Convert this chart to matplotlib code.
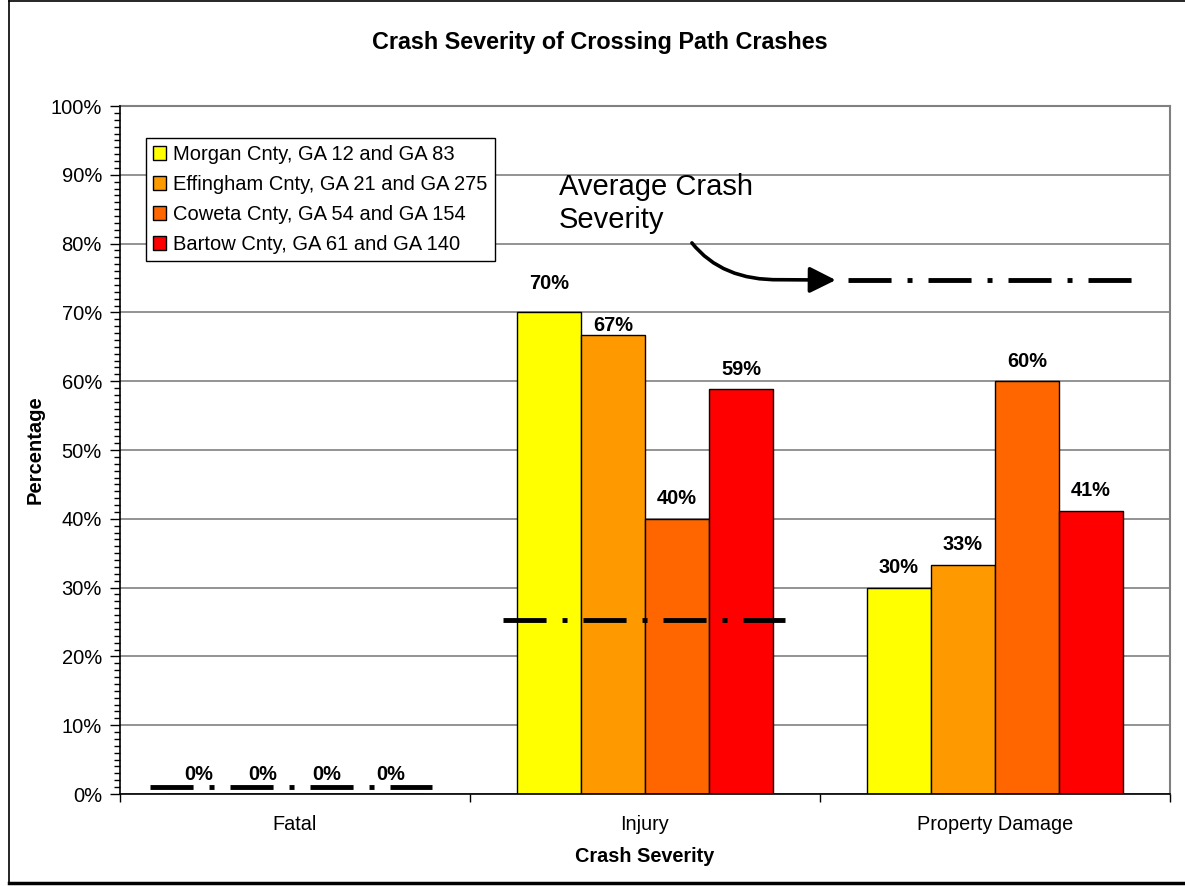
import matplotlib
matplotlib.use("Agg")
import matplotlib.pyplot as plt
import numpy as np
from matplotlib.path import Path
from matplotlib.patches import FancyArrowPatch
from matplotlib.lines import Line2D

plt.rcParams['font.family'] = ['Liberation Sans', 'DejaVu Sans']

# ---- data ----
categories = ["Fatal", "Injury", "Property Damage"]
series_names = ["Morgan Cnty, GA 12 and GA 83",
                "Effingham Cnty, GA 21 and GA 275",
                "Coweta Cnty, GA 54 and GA 154",
                "Bartow Cnty, GA 61 and GA 140"]
morgan = [0.0, 70.0, 30.0]
effingham = [0.0, 66.7, 33.3]
coweta = [0.0, 40.0, 60.0]
bartow = [0.0, 58.8, 41.2]
yticks = list(range(0, 101, 10))
avg_fatal = 1.0
avg_injury = 25.3
avg_legend = 74.7

series = [morgan, effingham, coweta, bartow]
colors = ["#FFFF00", "#FF9900", "#FF6600", "#FF0000"]

W, H = 1185, 886
fig = plt.figure(figsize=(W / 100, H / 100), dpi=100)
ax = fig.add_axes([120 / W, 1 - 794 / H, 1050 / W, 688 / H])

x = np.arange(len(categories))
bw = 64 / 350
offsets = [-1.5, -0.5, 0.5, 1.5]
# label vertical offsets in points (Excel labels, two moved manually)
label_off = [[14.4, 14.4, 14.4, 14.4],
             [20.9, 7.2, 14.4, 14.4],
             [14.4, 14.4, 14.4, 14.4]]
for si, (vals, col, name) in enumerate(zip(series, colors, series_names)):
    xs = x + offsets[si] * bw
    ax.bar(xs, vals, width=bw, color=col, edgecolor="black", linewidth=1.0,
           label=name, zorder=3)
    for ci, (xx, v) in enumerate(zip(xs, vals)):
        ax.annotate(f"{v:.0f}%", (xx, v), xytext=(0, label_off[ci][si]),
                    textcoords="offset points", ha="center", va="center",
                    fontsize=14.4, fontweight="bold", zorder=5)

ax.set_xlim(-0.5, 2.5)
ax.set_ylim(0, 100)
ax.set_yticks(yticks)
ax.set_yticklabels([f"{t}%" for t in yticks], fontsize=14.5)
ax.set_yticks(np.arange(0, 101, 1), minor=True)
ax.tick_params(axis="y", which="major", direction="out", length=7, width=1, pad=6)
ax.tick_params(axis="y", which="minor", direction="out", length=4, width=1)

ax.set_xticks([-0.5, 0.5, 1.5, 2.5])
ax.set_xticklabels([])
ax.set_xticks(x, minor=True)
ax.set_xticklabels(categories, minor=True, fontsize=14.3)
ax.tick_params(axis="x", which="major", direction="out", length=6, width=1)
ax.tick_params(axis="x", which="minor", length=0, pad=15)

ax.grid(axis="y", which="major", color="#808080", linewidth=1.2, zorder=0)
for s in ["top", "right"]:
    ax.spines[s].set_color("#808080")
    ax.spines[s].set_linewidth(1.5)
for s in ["left", "bottom"]:
    ax.spines[s].set_color("black")
    ax.spines[s].set_linewidth(1.2)
    ax.spines[s].set_zorder(6)

# average dash-dot lines
lw_avg = 3.5
dash = (31 / lw_avg, 11.5 / lw_avg, 3.6 / lw_avg, 11.5 / lw_avg)
for (x0, x1, yv) in [(-0.414, 0.391, avg_fatal), (0.594, 1.40, avg_injury),
                     (1.58, 2.403, avg_legend)]:
    ln = Line2D([x0, x1], [yv, yv], color="black", linewidth=lw_avg,
                dashes=dash, solid_capstyle="butt", dash_capstyle="butt", zorder=4)
    ax.add_line(ln)

ax.text(0.754, 90.2, "Average Crash\nSeverity", fontsize=21, ha="left", va="top",
        linespacing=1.2, zorder=5)

verts = [(1.134, 80.1), (1.22, 74.6), (1.386, 74.75), (1.545, 74.7)]
codes = [Path.MOVETO, Path.CURVE3, Path.CURVE3, Path.LINETO]
arr = FancyArrowPatch(path=Path(verts, codes),
                      arrowstyle="-|>,head_length=0.8,head_width=0.4",
                      mutation_scale=20, linewidth=2.6, color="black", zorder=5)
ax.add_patch(arr)

leg = ax.legend(loc="upper left", bbox_to_anchor=(0.0248, 0.9535),
                borderaxespad=0, fontsize=14.5, frameon=True, fancybox=False,
                edgecolor="black", framealpha=1, handlelength=0.65,
                handleheight=0.65, handletextpad=0.35, labelspacing=0.55,
                borderpad=0.35)
leg.get_frame().set_linewidth(1.0)
leg.set_zorder(7)

fig.text(600 / W, 1 - 42 / H, "Crash Severity of Crossing Path Crashes",
         fontsize=16.8, fontweight="bold", ha="center", va="center")
fig.text(35 / W, 1 - 450 / H, "Percentage", fontsize=14.5, fontweight="bold",
         rotation=90, ha="center", va="center")
fig.text(645 / W, 1 - 857 / H, "Crash Severity", fontsize=14.3,
         fontweight="bold", ha="center", va="center")

# outer chart border
fig.add_artist(Line2D([8.5 / W, 8.5 / W], [1 - 1 / H, 1 - 882 / H],
                      transform=fig.transFigure, color="black", linewidth=1.2))
fig.add_artist(Line2D([8.5 / W, 1.0], [1 - 1 / H, 1 - 1 / H],
                      transform=fig.transFigure, color="black", linewidth=1.2))
fig.add_artist(Line2D([8.5 / W, 1.0], [1 - 882.5 / H, 1 - 882.5 / H],
                      transform=fig.transFigure, color="black", linewidth=2.5))

fig.savefig("out.png", dpi=100)
